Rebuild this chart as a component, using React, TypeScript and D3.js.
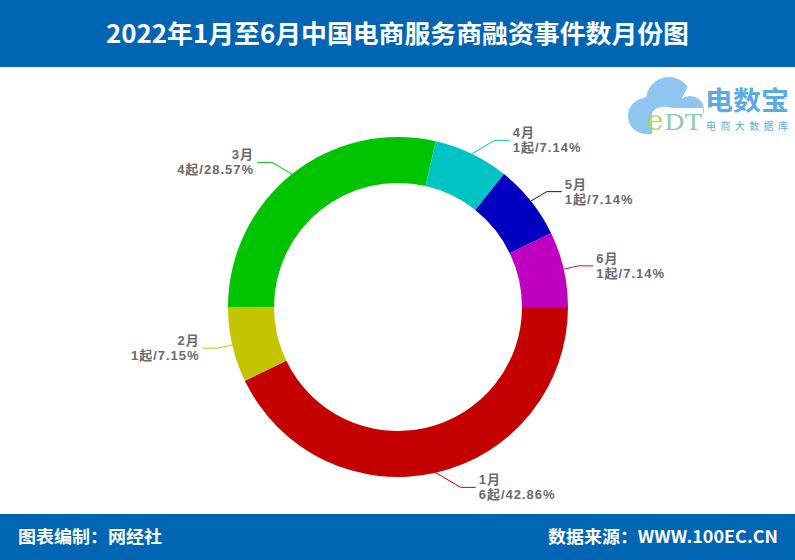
import React from "react";
import * as d3 from "d3";

const months = ["1月", "2月", "3月", "4月", "5月", "6月"];
const counts = [6, 1, 4, 1, 1, 1];
const pctLabels = ["42.86%", "7.15%", "28.57%", "7.14%", "7.14%", "7.14%"];
const colors = ["#c40000", "#c4c400", "#00c400", "#00c4c4", "#0000c0", "#c000c0"];

const W = 795;
const H = 560;
const CX = 398;
const CY = 307;
const R_OUT = 170;
const R_IN = 124;
const FONT = "'Noto Sans CJK SC', 'Noto Sans', sans-serif";
const LABEL_FONT = "'Liberation Sans', 'Noto Sans CJK SC', sans-serif";

export default function App() {
  const pie = d3
    .pie<number>()
    .sort(null)
    .value((d) => d)
    .startAngle(Math.PI / 2)
    .endAngle(Math.PI / 2 + 2 * Math.PI);
  const arcs = pie(counts);
  const arcGen = d3.arc<d3.PieArcDatum<number>>().innerRadius(R_IN).outerRadius(R_OUT);

  const labels = arcs.map((a, i) => {
    const mid = (a.startAngle + a.endAngle) / 2;
    const s = Math.sin(mid);
    const c = -Math.cos(mid);
    const x0 = s * R_OUT;
    const y0 = c * R_OUT;
    const y1 = c * (R_OUT + 15);
    const rdx = s * (R_OUT + 15) - x0;
    const dy = y1 - y0;
    const side = s >= 0 ? 1 : -1;
    const dx = side * Math.max(Math.abs(rdx), Math.abs(dy) * 1.7);
    const x1 = x0 + dx;
    const x2 = x1 + side * 15;
    return { i, x0, y0, x1, y1, x2, side };
  });

  // cloud logo path via d3.path
  const cloud = d3.path();
  cloud.moveTo(646, 134);
  cloud.arc(646, 116, 18, Math.PI / 2, Math.PI * 1.45);
  cloud.arc(669, 100, 23, Math.PI * 1.05, Math.PI * 1.8);
  cloud.arc(690, 110, 14, Math.PI * 1.3, Math.PI * 2.15);
  cloud.lineTo(703, 134);
  cloud.closePath();

  return (
    <svg width={W} height={H} style={{ position: "absolute", left: 0, top: 0, background: "#fff" }}>
      <rect x={0} y={0} width={W} height={H} fill="#ffffff" />
      <rect x={0} y={0} width={W} height={67} fill="#0066b4" />
      <text
        x={W / 2}
        y={43}
        textAnchor="middle"
        fill="#ffffff"
        fontFamily={FONT}
        fontWeight="bold"
        fontSize={25}
        textLength={583}
        lengthAdjust="spacingAndGlyphs"
      >
        2022年1月至6月中国电商服务商融资事件数月份图
      </text>

      {/* logo */}
      <g>
        <path d={cloud.toString()} fill="#8ec6f0" />
        <path d="M652,134 L652,112 Q660,104 672,108 L703,108 L703,134 Z" fill="#ffffff" />
        <text x={647} y={130} fontFamily="'DejaVu Serif', serif" fontSize={28} fill="#b8d65c">
          e
        </text>
        <text x={664} y={130} fontFamily="'DejaVu Serif', serif" fontSize={22} fill="#8ccbb0" textLength={38} lengthAdjust="spacingAndGlyphs">
          DT
        </text>
        <text x={705} y={110} fontFamily={FONT} fontWeight="bold" fontSize={26} fill="#5aaae8" textLength={84} lengthAdjust="spacingAndGlyphs">
          电数宝
        </text>
        <text x={706} y={130} fontFamily={FONT} fontSize={10} fill="#5aaae8" textLength={82} lengthAdjust="spacing">
          电商大数据库
        </text>
      </g>

      <g transform={`translate(${CX},${CY})`}>
        {arcs.map((a, i) => (
          <path key={months[i]} d={arcGen(a) || ""} fill={colors[i]} />
        ))}
        {labels.map((l) => (
          <g key={"l" + l.i}>
            <polyline
              points={`${l.x0},${l.y0} ${l.x1},${l.y1} ${l.x2},${l.y1}`}
              fill="none"
              stroke={colors[l.i]}
              strokeWidth={1}
            />
            <text
              x={l.x2 + l.side * 3}
              y={l.y1}
              textAnchor={l.side > 0 ? "start" : "end"}
              fontFamily={LABEL_FONT}
              fontWeight="bold"
              fontSize={13}
              letterSpacing={1}
              fill="#6a6a6a"
            >
              <tspan x={l.x2 + l.side * 3} dy={-3}>
                {months[l.i]}
              </tspan>
              <tspan x={l.x2 + l.side * 3} dy={15}>
                {`${counts[l.i]}起/${pctLabels[l.i]}`}
              </tspan>
            </text>
          </g>
        ))}
      </g>

      <rect x={0} y={514} width={W} height={46} fill="#0066b4" />
      <text x={18} y={543} fill="#ffffff" fontFamily={FONT} fontWeight="bold" fontSize={17} textLength={144} lengthAdjust="spacingAndGlyphs">
        图表编制：网经社
      </text>
      <text x={778} y={543} textAnchor="end" fill="#ffffff" fontFamily={FONT} fontWeight="bold" fontSize={17} textLength={230} lengthAdjust="spacingAndGlyphs">
        数据来源：WWW.100EC.CN
      </text>
    </svg>
  );
}
